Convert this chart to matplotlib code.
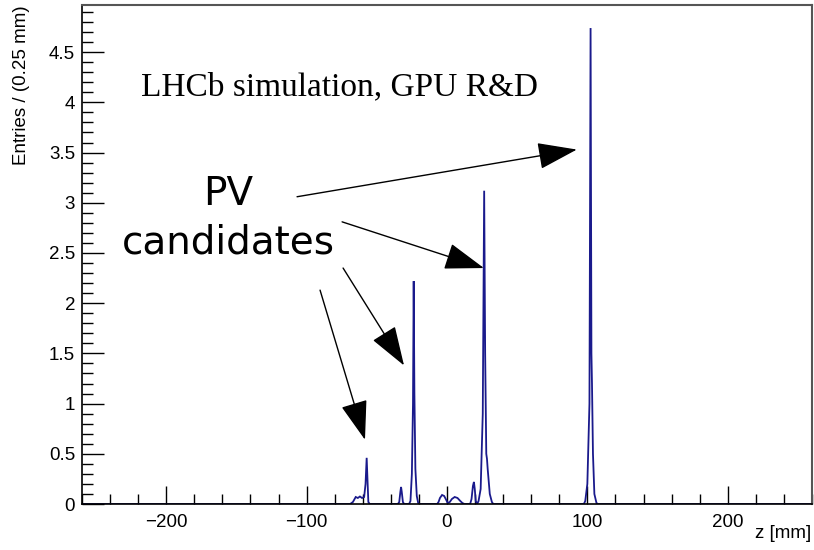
import matplotlib
matplotlib.use("Agg")
import matplotlib.pyplot as plt
from matplotlib.ticker import MultipleLocator

# Histogram outline (z in mm, entries per 0.25 mm)
z_pts = [-260, -69, -67, -65, -63.5, -62, -60.5, -59, -58, -57.2, -56.5, -56, -55,
         -35, -34, -33.2, -32.7, -32.2, -31.4, -30.5,
         -27, -26, -25, -24.2, -23.7, -23.2, -22.5, -21.5, -20.5, -19.5,
         -7, -6, -5, -3.5, -2, -0.5, 0.5, 2, 3.5, 5.5, 7.5, 9.5, 11, 12.5,
         16.5, 17.5, 18.5, 19.2, 19.8, 20.5, 21.5, 22.5, 24, 25.5, 26.5, 27.2, 28, 28.5, 29, 30.5, 32, 33,
         97.5, 98.5, 100, 101.5, 102.3, 102.9, 103.3, 104, 105, 106.5, 107.5, 260]
y_pts = [0, 0, 0.02, 0.07, 0.06, 0.075, 0.06, 0.07, 0.2, 0.46, 0.2, 0.02, 0,
         0, 0.02, 0.12, 0.17, 0.12, 0.02, 0,
         0, 0.03, 0.3, 1.0, 2.22, 1.1, 0.35, 0.08, 0.01, 0,
         0, 0.02, 0.06, 0.09, 0.08, 0.04, 0.01, 0.02, 0.05, 0.07, 0.06, 0.03, 0.01, 0,
         0, 0.05, 0.18, 0.22, 0.15, 0.03, 0, 0.03, 0.15, 0.9, 3.12, 1.5, 0.5, 0.45, 0.35, 0.1, 0.02, 0,
         0, 0.03, 0.2, 1.0, 4.74, 1.5, 1.2, 0.5, 0.1, 0.01, 0, 0]

# Annotation arrows: (start z, start y, end z, end y)
arrow_starts = [(-106.8, 3.06), (-74.7, 2.81), (-74.0, 2.35), (-90.4, 2.13)]
arrow_ends = [(92.5, 3.53), (26.3, 2.35), (-30.6, 1.38), (-58.4, 0.64)]

fig = plt.figure(figsize=(8.14, 5.5), dpi=100)
ax = fig.add_axes([0.1007, 0.0836, 0.8968, 0.9074])

ax.plot(z_pts, y_pts, color='#1a1a8c', lw=1.3, solid_joinstyle='miter')
ax.set_xlim(-260, 260)
ax.set_ylim(0, 4.97)

ax.xaxis.set_major_locator(MultipleLocator(100))
ax.xaxis.set_minor_locator(MultipleLocator(20))
ax.yaxis.set_major_locator(MultipleLocator(0.5))
ax.yaxis.set_minor_locator(MultipleLocator(0.1))
ax.set_yticks([0, 0.5, 1, 1.5, 2, 2.5, 3, 3.5, 4, 4.5])
ax.set_yticklabels(['0', '0.5', '1', '1.5', '2', '2.5', '3', '3.5', '4', '4.5'])
ax.set_xticks([-200, -100, 0, 100, 200])
ax.set_xticklabels(['\u2212200', '\u2212100', '0', '100', '200'])

lab_font = 'Liberation Sans'
ax.tick_params(axis='y', which='major', direction='in', length=16, width=1, labelsize=13.5, pad=5)
ax.tick_params(axis='y', which='minor', direction='in', length=8, width=1)
ax.tick_params(axis='x', which='major', direction='in', length=13, width=1, labelsize=13.5, pad=7)
ax.tick_params(axis='x', which='minor', direction='in', length=7, width=1)
for lbl in ax.get_xticklabels() + ax.get_yticklabels():
    lbl.set_fontfamily(lab_font)

for s in ['top', 'right']:
    ax.spines[s].set_color('#555555')
    ax.spines[s].set_linewidth(1.5)
for s in ['left', 'bottom']:
    ax.spines[s].set_color('black')
    ax.spines[s].set_linewidth(1.2)

fig.text(0.026, 0.991, 'Entries / (0.25 mm)', rotation=90, ha='center', va='top',
         fontsize=13.5, family=lab_font)
fig.text(0.997, 0.015, 'z [mm]', ha='right', va='bottom', fontsize=13.5, family=lab_font)

ax.text(-218, 4.15, 'LHCb simulation, GPU R&D', fontsize=24, family='Liberation Serif',
        ha='left', va='center')
ax.text(-156, 2.85, 'PV\ncandidates', fontsize=28, family='DejaVu Sans',
        ha='center', va='center', linespacing=1.35)

for (sz, sy), (ez, ey) in zip(arrow_starts, arrow_ends):
    ax.annotate('', xy=(ez, ey), xytext=(sz, sy),
                arrowprops=dict(arrowstyle='-|>,head_length=2.5,head_width=0.85',
                                mutation_scale=10, color='black', lw=1,
                                shrinkA=0, shrinkB=0))

fig.savefig('out.png', dpi=100)
